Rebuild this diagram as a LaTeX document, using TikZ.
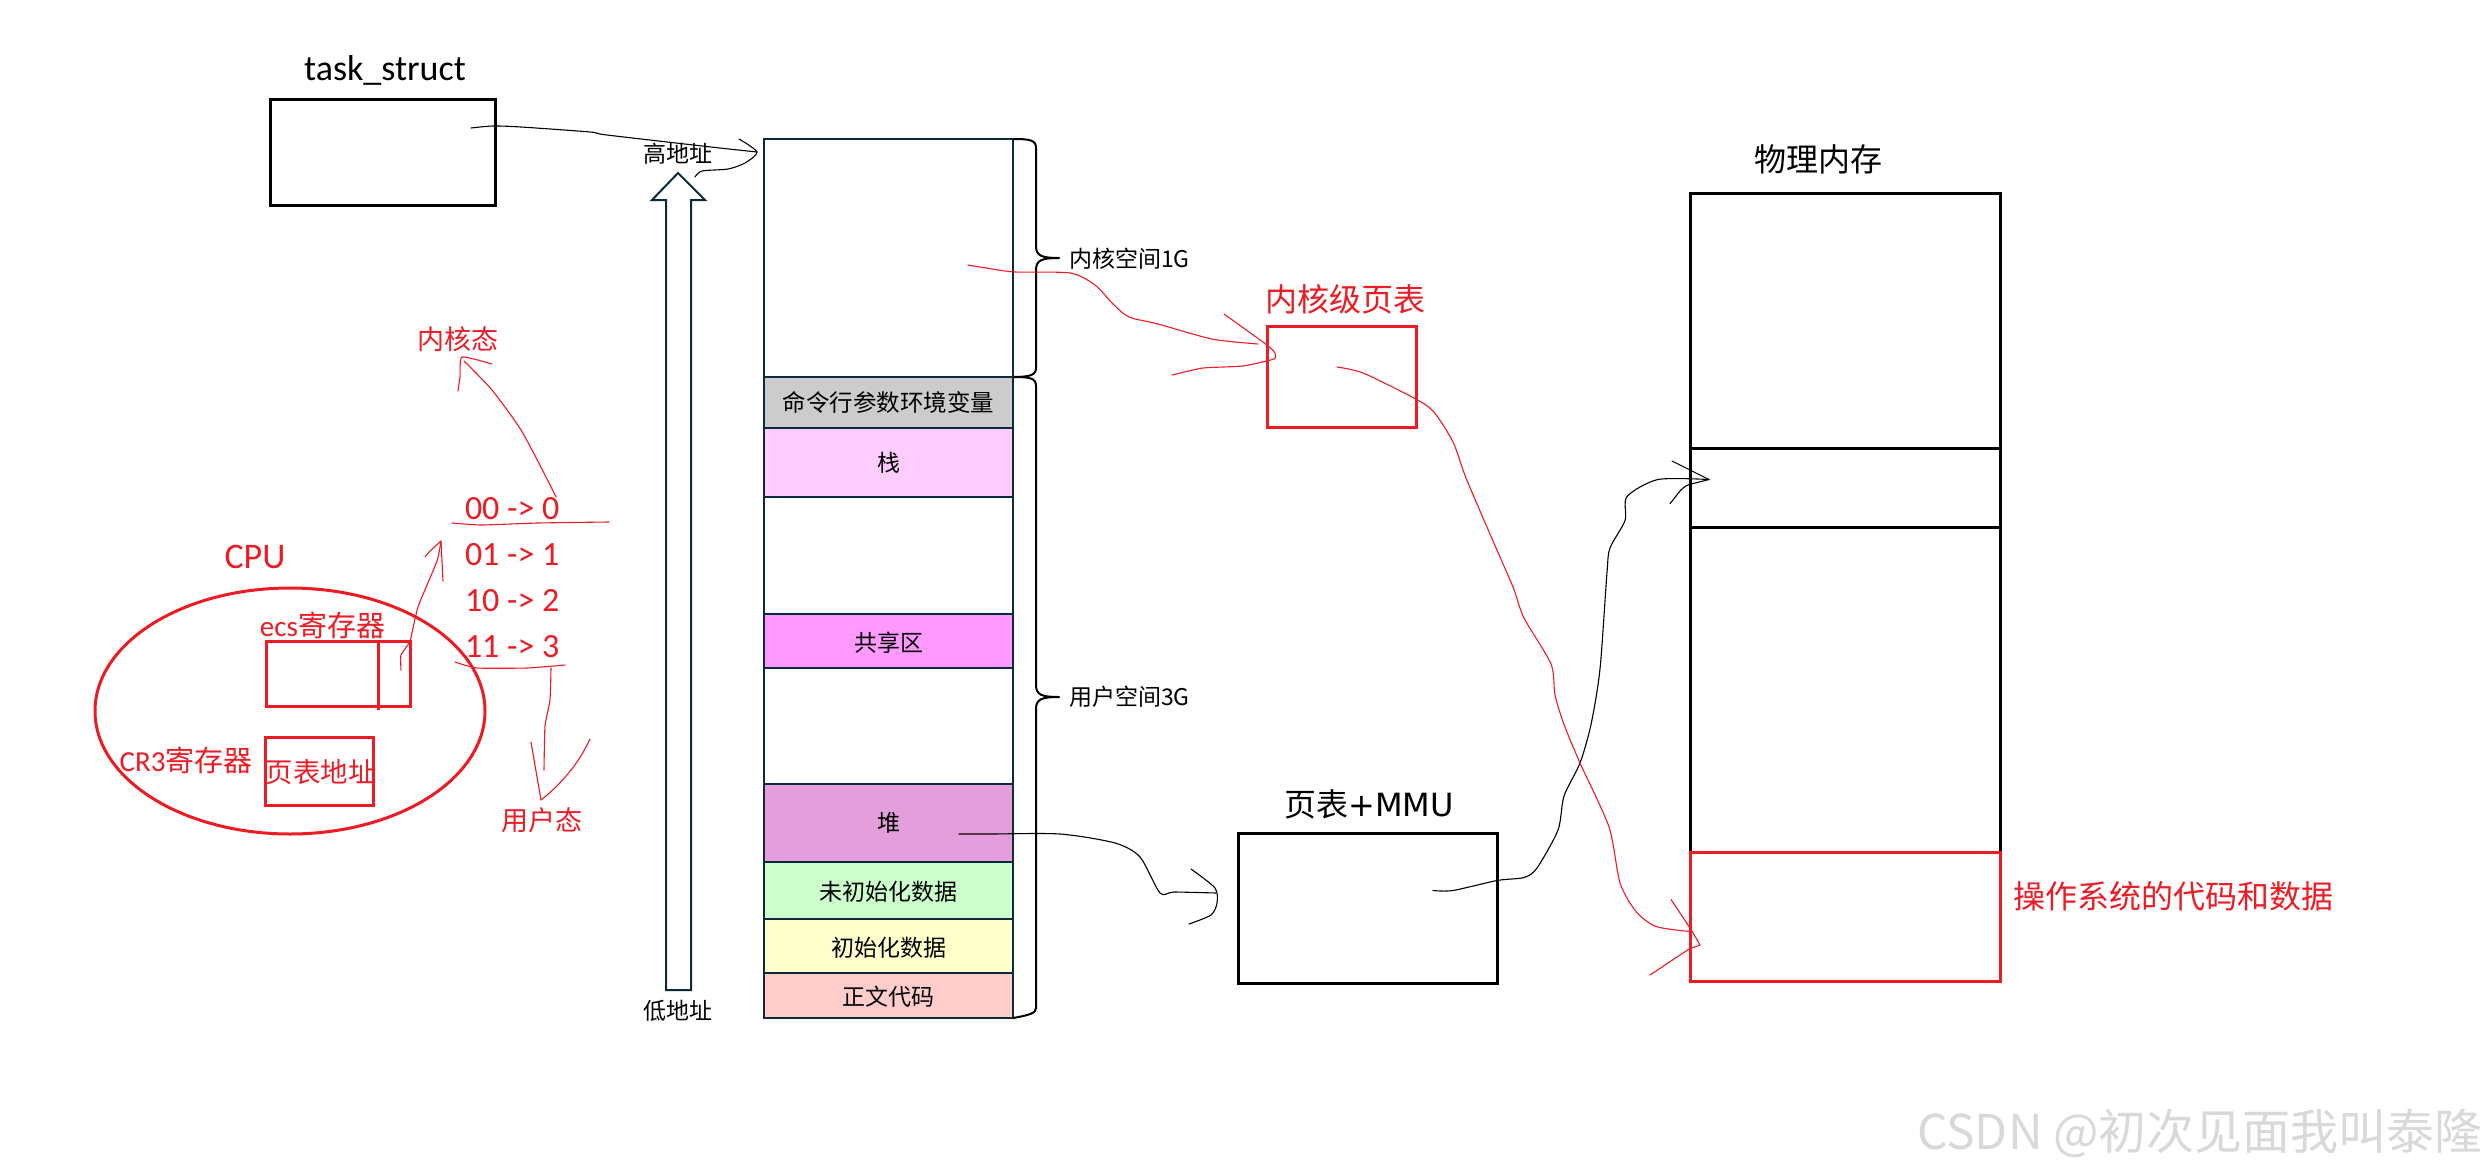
\documentclass[tikz,border=0pt]{standalone}
\usepackage{fontspec}
\usetikzlibrary{shapes.geometric}
\setmainfont{Carlito}
\newfontfamily\cjk{Noto Sans CJK SC}
\newfontfamily\dv{DejaVu Sans}
\newcommand{\fs}[1]{\fontsize{#1}{#1}\selectfont}
\newcommand{\dn}[1]{\raisebox{-1.5pt}[\height][\depth]{#1}}
\definecolor{ink}{HTML}{0B2A3A}
\definecolor{redl}{HTML}{ED1C24}
\definecolor{cgray}{HTML}{CCCCCC}
\definecolor{cpink}{HTML}{FFCCFF}
\definecolor{cshm}{HTML}{FF99FF}
\definecolor{cheap}{HTML}{E39EDB}
\definecolor{cgreen}{HTML}{CCFFCC}
\definecolor{cyel}{HTML}{FFFFCC}
\definecolor{cred}{HTML}{FFCCCC}
\begin{document}
\begin{tikzpicture}[x=1pt,y=-1pt,
  cell/.style={draw=ink,line width=2.2pt,minimum width=249pt,inner sep=0pt,outer sep=0pt,font=\cjk\fs{23}},
  blackbox/.style={draw=black,line width=3pt,inner sep=0pt,outer sep=0pt},
  redbox/.style={draw=redl,line width=3pt,inner sep=0pt,outer sep=0pt},
  txt/.style={inner sep=0pt,outer sep=0pt,text=black},
  rtxt/.style={inner sep=0pt,outer sep=0pt,text=redl},
  hand/.style={draw=black,line width=1.1pt,line cap=round,line join=round},
  rhand/.style={draw=redl,line width=1.1pt,line cap=round,line join=round},
  bracel/.style={draw=black,line width=2pt,line join=round}]
\useasboundingbox (0,0) rectangle (2488,1172);
\fill[white] (0,0) rectangle (2488,1172);

% --- address space cells
\node[cell,minimum height=238pt] (kern) at (888.5,258) {};
\node[cell,fill=cgray,minimum height=51pt,font=\cjk\fs{23.5}] (args) at (888.5,402.5) {命令行参数环境变量};
\node[cell,fill=cpink,minimum height=69pt] (stk) at (888.5,462.5) {栈};
\node[cell,minimum height=117pt] (gap1) at (888.5,555.5) {};
\node[cell,fill=cshm,minimum height=54pt] (shm) at (888.5,641) {\dn{共享区}};
\node[cell,minimum height=116pt] (gap2) at (888.5,726) {};
\node[cell,fill=cheap,minimum height=78pt] (heap) at (888.5,823) {堆};
\node[cell,fill=cgreen,minimum height=57pt] (bss) at (888.5,890.5) {\dn{未初始化数据}};
\node[cell,fill=cyel,minimum height=54pt] (data) at (888.5,946) {\dn{初始化数据}};
\node[cell,fill=cred,minimum height=45pt] (code) at (888.5,995.5) {\dn{正文代码}};

% --- braces
\draw[bracel] (kern.north east) .. controls (1030,139) and (1036,140) .. (1036,148)
  -- (1036,246) .. controls (1036,256) and (1042,258) .. (1059,258)
  .. controls (1042,258) and (1036,260) .. (1036,270)
  -- (1036,368) .. controls (1036,375) and (1030,377) .. (kern.south east);
\draw[bracel] (kern.south east) .. controls (1030,377) and (1036,378) .. (1036,386)
  -- (1036,685) .. controls (1036,695) and (1042,697) .. (1059,697)
  .. controls (1042,697) and (1036,699) .. (1036,709)
  -- (1036,1008) .. controls (1036,1013) and (1030,1015) .. (code.south east);
\node[txt,anchor=west,font=\cjk\fs{23}] (l1g) at (1069,259) {内核空间1G};
\node[txt,anchor=west,font=\cjk\fs{23}] (l3g) at (1069,697) {用户空间3G};

% --- address arrow
\draw[draw=ink,line width=2pt,fill=white,line join=miter]
  (666,990) -- (666,200) -- (652,200) -- (678,173) -- (705,200) -- (691,200) -- (691,990) -- cycle;
\node[txt,font=\cjk\fs{23}] (high) at (678,153.5) {高地址};
\node[txt,font=\cjk\fs{23}] (low) at (678,1010.5) {低地址};

% --- task_struct
\node[blackbox,minimum width=225pt,minimum height=106pt] (task) at (382.5,152.5) {};
\node[txt,font=\fs{36}] (taskl) at (385,70) {task\_struct};

% --- page table + MMU
\node[blackbox,minimum width=259pt,minimum height=149.5pt] (mmu) at (1367.5,908.25) {};
\node[txt,font=\cjk\fs{32}] (mmul) at (1369,804) {页表{\dv +MMU}};

% --- kernel page table
\node[redbox,minimum width=149pt,minimum height=101.5pt] (kpt) at (1341.5,376.75) {};
\node[rtxt,font=\cjk\fs{32}] (kptl) at (1345,299) {内核级页表};

% --- physical memory
\node[blackbox,minimum width=310pt,minimum height=254.5pt] (ph1) at (1845,321) {};
\node[blackbox,minimum width=310pt,minimum height=79pt] (ph2) at (1845,487.5) {};
\node[blackbox,minimum width=310pt,minimum height=325pt] (ph3) at (1845,689.5) {};
\node[redbox,minimum width=310pt,minimum height=129.5pt] (os) at (1845,916.75) {};
\node[txt,font=\cjk\fs{32}] (phl) at (1818,159) {物理内存};
\node[rtxt,anchor=west,font=\cjk\fs{32}] (osl) at (2013,896) {操作系统的代码和数据};

% --- CPU
\node[draw=redl,line width=3pt,ellipse,minimum width=390pt,minimum height=246pt,inner sep=0pt,outer sep=0pt] (cpu) at (290,711) {};
\node[rtxt,font=\fs{36}] (cpul) at (255,557) {CPU};
\node[redbox,minimum width=144pt,minimum height=65pt] (ecs) at (338.5,674) {};
\coordinate (divt) at (378,640);
\coordinate (divb) at (378,710);
\draw[draw=redl,line width=3pt] (divt) -- (divb);
\node[rtxt,font=\fs{29}] (ecsl) at (322.5,625) {ecs{\cjk 寄存器}};
\node[redbox,minimum width=108pt,minimum height=68pt] (cr3) at (319.5,771) {};
\node[rtxt,font=\fs{29}] (cr3l) at (186,760.5) {CR3{\cjk 寄存器}};
\node[rtxt,font=\cjk\fs{27.5}] (ptaddr) at (320.5,772) {页表地址};

% --- ring levels
\node[rtxt,anchor=west,font=\fs{34}] (r0) at (465,509) {00 -> 0};
\node[rtxt,anchor=west,font=\fs{34}] (r1) at (465,555) {01 -> 1};
\node[rtxt,anchor=west,font=\fs{34}] (r2) at (465,601) {10 -> 2};
\node[rtxt,anchor=west,font=\fs{34}] (r3) at (465,647) {11 -> 3};
\node[rtxt,font=\cjk\fs{27}] (kst) at (458,339.5) {内核态};
\node[rtxt,font=\cjk\fs{27}] (ust) at (542,820) {用户态};

% --- watermark
\node[inner sep=0pt,text=black!15,anchor=east,font=\cjk\fs{48}] (wm) at (2483,1133) {CSDN @初次见面我叫泰隆};

% --- freehand connector ends
\coordinate (a0) at (471,128);   \coordinate (a1) at (757,152);
\coordinate (b0) at (959,834);   \coordinate (b1) at (1216,893);
\coordinate (c0) at (1433,890.5);  \coordinate (c1) at (1709,479.5);
\coordinate (d0) at (968,265);   \coordinate (d1) at (1275,353);
\coordinate (e0) at (1337,367);  \coordinate (e1) at (1700,945);
\coordinate (f0) at (556,497);   \coordinate (f1) at (462,357);
\coordinate (g0) at (401,670);   \coordinate (g1) at (441,541);
\coordinate (h0) at (551,668);   \coordinate (h1) at (541,800);

% black freehand
\draw[hand] plot[smooth,tension=.45] coordinates {(a0) (493,126) (521,127) (590,132) (607,135) (711,147) (a1)};
\draw[hand] plot[smooth,tension=.45] coordinates {(739,139) (a1) (745,163) (728,169) (702,171) (695,177)};
\draw[hand] plot[smooth,tension=.45] coordinates {(b0) (991,834) (1060,834) (1115,843) (1140,857) (1160,893) (1174,892) (b1)};
\draw[hand] plot[smooth,tension=.45] coordinates {(1191,869) (1215,888) (1217,903) (1211,915) (1189,924)};
\draw[hand] plot[smooth,tension=.45] coordinates {(c0) (1453,890.5) (1497,880.5) (1524,877.5) (1537,868) (1558,830) (1564,796) (1580,763) (1591,724.5) (1600,669) (1607,572) (1610,548) (1625,520.5) (1627,496.5) (1658,479.5) (c1)};
\draw[hand] (1672,461) -- (c1) -- (1689,484.5) .. controls (1680,488) and (1677,496) .. (1670,503.5);

% red freehand
\draw[rhand] plot[smooth,tension=.45] coordinates {(d0) (986,268) (1015,272) (1070,273) (1095,285) (1113,304) (1129,317) (1158,324) (1212,339) (1258,344)};
\draw[rhand] plot[smooth,tension=.3] coordinates {(1224,314) (1267,345) (d1) (1274,359) (1243,366) (1203,368) (1172,375)};
\draw[rhand] plot[smooth,tension=.45] coordinates {(e0) (1363,373) (1412,397) (1433,411) (1453,442) (1466,478) (1493,541) (1513,587) (1524,618) (1551,664) (1555,695) (1564,724.5) (1580,763) (1609,827) (1620,883) (1636,911.5) (1656,926.5) (1690,931.5)};
\draw[rhand] (1671,899.5) -- (1691,929.5) -- (e1) -- (1689,949) -- (1650,975);
\draw[rhand] plot[smooth,tension=.3] coordinates {(452,523) (481,525) (538,523) (609,522)};
\draw[rhand] plot[smooth,tension=.3] coordinates {(455,662) (477,668) (527,668) (565,665)};
\draw[rhand] plot[smooth,tension=.4] coordinates {(f0) (546,477) (521,430) (492,390) (464,361)};
\draw[rhand] plot[smooth,tension=.3] coordinates {(492,364) (f1) (460,377) (458,391)};
\draw[rhand] plot[smooth,tension=.3] coordinates {(g0) (401,655) (410,641) (418,607) (437,561) (g1)};
\draw[rhand] (425,557) .. controls (430,550) and (436,546) .. (g1) -- (443,581);
\draw[rhand] plot[smooth,tension=.3] coordinates {(h0) (550,700) (545,726) (544,770)};
\draw[rhand] (531,742) -- (h1) .. controls (560,785) and (578,765) .. (590,739);
\end{tikzpicture}
\end{document}
